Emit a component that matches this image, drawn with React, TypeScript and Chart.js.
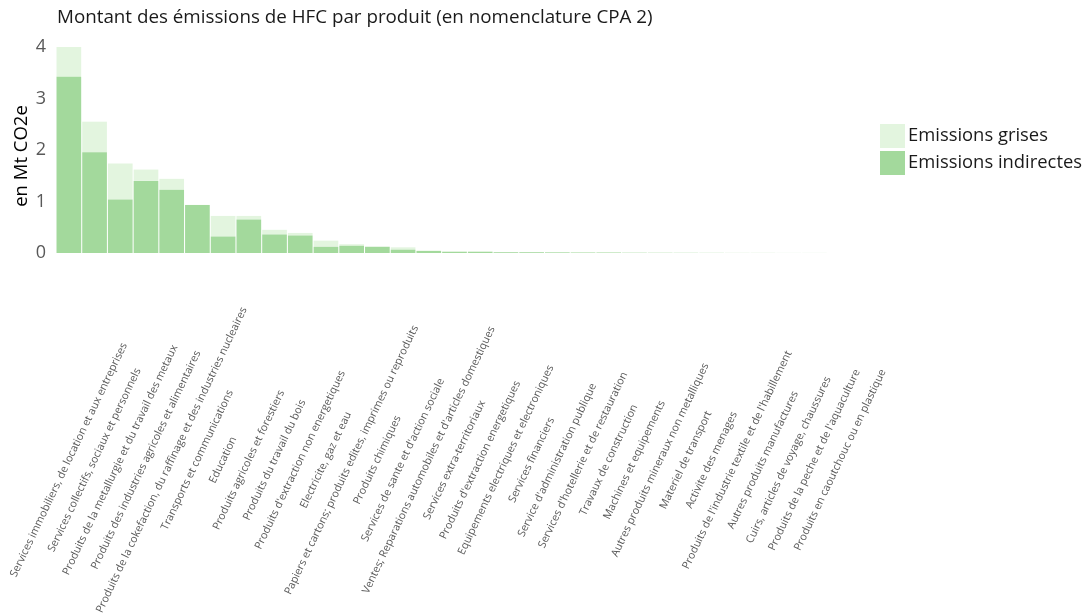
import React, { useEffect, useRef } from "react";
import { Chart, registerables } from "chart.js";

Chart.register(...registerables);

const TITLE = "Montant des émissions de HFC par produit (en nomenclature CPA 2)";
const Y_TITLE = "en Mt CO2e";

const categories: string[] = [
  "Services immobiliers, de location et aux entreprises",
  "Services collectifs, sociaux et personnels",
  "Produits de la metallurgie et du travail des metaux",
  "Produits des industries agricoles et alimentaires",
  "Produits de la cokefaction, du raffinage et des industries nucleaires",
  "Transports et communications",
  "Education",
  "Produits agricoles et forestiers",
  "Produits du travail du bois",
  "Produits d'extraction non energetiques",
  "Electricite, gaz et eau",
  "Papiers et cartons; produits edites, imprimes ou reproduits",
  "Produits chimiques",
  "Services de sante et d'action sociale",
  "Ventes; Reparations automobiles et d'articles domestiques",
  "Services extra-territoriaux",
  "Produits d'extraction energetiques",
  "Equipements electriques et electroniques",
  "Services financiers",
  "Service d'administration publique",
  "Services d'hotellerie et de restauration",
  "Travaux de construction",
  "Machines et equipements",
  "Autres produits mineraux non metalliques",
  "Materiel de transport",
  "Activite des menages",
  "Produits de l'industrie textile et de l'habillement",
  "Autres produits manufactures",
  "Cuirs, articles de voyage, chaussures",
  "Produits de la peche et de l'aquaculture",
  "Produits en caoutchouc ou en plastique",
];

const indirectes: number[] = [
  3.42, 1.955, 1.04, 1.4, 1.23, 0.93, 0.32, 0.65, 0.36, 0.34, 0.12, 0.14, 0.12,
  0.065, 0.04, 0.025, 0.025, 0.015, 0.015, 0.012, 0.01, 0.01, 0.006, 0.005,
  0.004, 0.003, 0.002, 0.002, 0.001, 0.001, 0.0005,
];

const grises: number[] = [
  0.58, 0.595, 0.7, 0.22, 0.21, 0.005, 0.4, 0.07, 0.09, 0.05, 0.12, 0.03, 0.005,
  0.045, 0.005, 0.003, 0.003, 0.002, 0.002, 0.004, 0.002, 0.002, 0.001, 0.001,
  0.001, 0.001, 0.0005, 0.0005, 0.0005, 0.0005, 0.0005,
];

const yTicks: number[] = [0, 1, 2, 3, 4];

const COLOR_INDIRECT = "#a3d99c";
const COLOR_GRISES = "#e3f5df";
const FONT = '"Open Sans", "DejaVu Sans", sans-serif';

const textPlugin = {
  id: "customText",
  afterDraw(chart: any) {
    const ctx: CanvasRenderingContext2D = chart.ctx;
    const xScale = chart.scales.x;
    const yScale = chart.scales.y;
    ctx.save();

    // Title
    ctx.font = `18.8px ${FONT}`;
    ctx.fillStyle = "#1a1a1a";
    ctx.textAlign = "left";
    ctx.textBaseline = "middle";
    ctx.fillText(TITLE, 57, 18);

    // Y axis title
    ctx.save();
    ctx.font = `18.5px ${FONT}`;
    ctx.fillStyle = "#000000";
    ctx.textAlign = "center";
    ctx.textBaseline = "middle";
    ctx.translate(22, (yScale.top + yScale.bottom) / 2 + 6);
    ctx.rotate(-Math.PI / 2);
    ctx.fillText(Y_TITLE, 0, 0);
    ctx.restore();

    // Rotated category labels, centred on each tick
    ctx.font = `10.8px ${FONT}`;
    ctx.fillStyle = "#595959";
    ctx.textAlign = "center";
    ctx.textBaseline = "middle";
    categories.forEach((c, i) => {
      const x = xScale.getPixelForValue(i);
      ctx.save();
      ctx.translate(x, 460);
      ctx.rotate((-64.5 * Math.PI) / 180);
      ctx.fillText(c, 0, 0);
      ctx.restore();
    });

    // Legend (grises on top, indirectes below)
    const items = [
      { label: chart.data.datasets[1].label, color: chart.data.datasets[1].backgroundColor },
      { label: chart.data.datasets[0].label, color: chart.data.datasets[0].backgroundColor },
    ];
    ctx.font = `18.4px ${FONT}`;
    ctx.textAlign = "left";
    items.forEach((it, k) => {
      const top = 124 + k * 27;
      ctx.fillStyle = it.color;
      ctx.fillRect(880, top, 25, 24);
      ctx.fillStyle = "#1a1a1a";
      ctx.fillText(it.label, 908, top + 12);
    });

    ctx.restore();
  },
};

export default function App() {
  const canvasRef = useRef<HTMLCanvasElement | null>(null);

  useEffect(() => {
    if (!canvasRef.current) return;
    const chart = new Chart(canvasRef.current, {
      type: "bar",
      data: {
        labels: categories,
        datasets: [
          {
            label: "Emissions indirectes",
            data: indirectes,
            backgroundColor: COLOR_INDIRECT,
            barPercentage: 0.96,
            categoryPercentage: 1,
            stack: "s",
          },
          {
            label: "Emissions grises",
            data: grises,
            backgroundColor: COLOR_GRISES,
            barPercentage: 0.96,
            categoryPercentage: 1,
            stack: "s",
          },
        ],
      },
      options: {
        responsive: false,
        animation: false,
        layout: { padding: { left: 0, right: 235, top: 47, bottom: 362 } },
        plugins: {
          legend: { display: false },
          title: { display: false },
          tooltip: { enabled: false },
        },
        scales: {
          x: {
            stacked: true,
            grid: { display: false, drawTicks: false },
            border: { display: false },
            ticks: { display: false },
            afterFit: (scale: any) => {
              scale.height = 0;
            },
          },
          y: {
            stacked: true,
            min: 0,
            max: 4,
            grid: { display: false, drawTicks: false },
            border: { display: false },
            afterBuildTicks: (scale: any) => {
              scale.ticks = yTicks.map((v) => ({ value: v }));
            },
            ticks: {
              color: "#595959",
              font: { family: FONT, size: 18 },
              padding: 10,
            },
            title: { display: false },
            afterFit: (scale: any) => {
              scale.width = 56;
            },
          },
        },
      },
      plugins: [textPlugin],
    });
    return () => chart.destroy();
  }, []);

  return (
    <div style={{ position: "absolute", left: 0, top: 0, width: 1088, height: 615, background: "#ffffff" }}>
      <canvas ref={canvasRef} width={1088} height={615} style={{ display: "block" }} />
    </div>
  );
}
